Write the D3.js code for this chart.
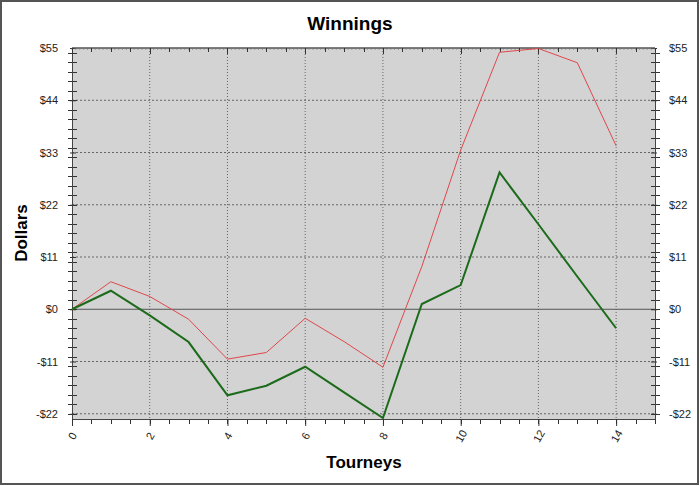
<!DOCTYPE html>
<html>
<head>
<meta charset="utf-8">
<script src="https://cdn.jsdelivr.net/npm/d3@7"></script>
<style>
  body { margin: 0; background: #fff; }
  svg { display: block; font-family: "Liberation Sans", Arial, sans-serif; }
</style>
</head>
<body>
<svg id="chart" width="700" height="486"></svg>
<script>
var width = 700,
    height = 486;

// data
var tourneys = [0, 1, 2, 3, 4, 5, 6, 7, 8, 9, 10, 11, 12, 13, 14];
var redSeries = [0, 5.8, 2.7, -2.1, -10.5, -9.1, -1.9, -6.8, -12.2, 9.0, 33.5, 54.1, 54.9, 51.9, 34.4];
var greenSeries = [0, 3.9, -1.3, -6.9, -18.1, -16.1, -12.1, -17.5, -22.9, 1.1, 5.1, 28.8, 17.9, 6.9, -4.0];
var yTickValues = [-22, -11, 0, 11, 22, 33, 44, 55];
var xTickValues = [0, 2, 4, 6, 8, 10, 12, 14];

var margin = { left: 72, right: 45, top: 48, bottom: 67 };

var x = d3.scaleLinear()
    .domain([0, 15])
    .range([margin.left, width - margin.right]);

var y = d3.scaleLinear()
    .domain([-23.1, 55])
    .range([height - margin.bottom, margin.top]);

var dollar = function(d) { return (d < 0 ? "-$" : "$") + Math.abs(d); };

var svg = d3.select("#chart");

// outer frame
svg.append("rect")
    .attr("x", 1).attr("y", 1)
    .attr("width", width - 3).attr("height", height - 3)
    .attr("fill", "#fff")
    .attr("stroke", "#555")
    .attr("stroke-width", 2);

// plot background
svg.append("rect")
    .attr("x", x(0)).attr("y", y(55))
    .attr("width", x(15) - x(0)).attr("height", y(-23.1) - y(55))
    .attr("fill", "#d3d3d3");

// grid
svg.append("g").selectAll("line")
    .data(xTickValues.slice(1))
    .enter().append("line")
    .attr("x1", function(d) { return x(d); })
    .attr("x2", function(d) { return x(d); })
    .attr("y1", y(55)).attr("y2", y(-23.1))
    .attr("stroke", "#666")
    .attr("stroke-dasharray", "1,2");

svg.append("g").selectAll("line")
    .data(yTickValues.filter(function(d) { return d !== 0 && d !== 55; }))
    .enter().append("line")
    .attr("x1", x(0)).attr("x2", x(15))
    .attr("y1", function(d) { return y(d); })
    .attr("y2", function(d) { return y(d); })
    .attr("stroke", "#666")
    .attr("stroke-dasharray", "2,2");

// zero line
svg.append("line")
    .attr("x1", x(0)).attr("x2", x(15))
    .attr("y1", y(0)).attr("y2", y(0))
    .attr("stroke", "#555");

// axes
function styleAxis(g) {
  g.select(".domain").attr("stroke", "#444");
  g.selectAll(".tick line").attr("stroke", "#333");
  g.selectAll(".tick text").attr("fill", "#222").style("font-size", "11px");
}

var minorY = d3.range(-22, 55, 2);
var minorX = d3.range(0, 15.01, 0.5);
var fineX = d3.range(0, 15.01, 0.1);

// left minor/major ticks crossing the axis
svg.append("g").selectAll("line")
    .data(minorY)
    .enter().append("line")
    .attr("x1", x(0) - 4).attr("x2", x(0) + 5)
    .attr("y1", function(d) { return Math.round(y(d)) + 0.5; })
    .attr("y2", function(d) { return Math.round(y(d)) + 0.5; })
    .attr("stroke", "#333");
svg.append("g").selectAll("line")
    .data(minorY)
    .enter().append("line")
    .attr("x1", x(15) - 4).attr("x2", x(15) + 5)
    .attr("y1", function(d) { return Math.round(y(d)) + 0.5; })
    .attr("y2", function(d) { return Math.round(y(d)) + 0.5; })
    .attr("stroke", "#333");

svg.append("g")
    .attr("transform", "translate(" + x(0) + ",0)")
    .call(d3.axisLeft(y).tickValues(yTickValues).tickFormat(dollar).tickSizeInner(6).tickSizeOuter(0).tickPadding(8))
    .call(styleAxis)
    .call(function(g) { g.selectAll(".tick line").attr("transform", "translate(4,0)"); });

svg.append("g")
    .attr("transform", "translate(" + x(15) + ",0)")
    .call(d3.axisRight(y).tickValues(yTickValues).tickFormat(dollar).tickSizeInner(6).tickSizeOuter(0).tickPadding(8))
    .call(styleAxis)
    .call(function(g) { g.selectAll(".tick line").attr("transform", "translate(-4,0)"); });

// bottom axis
svg.append("g").selectAll("line")
    .data(minorX)
    .enter().append("line")
    .attr("x1", function(d) { return Math.round(x(d)) + 0.5; })
    .attr("x2", function(d) { return Math.round(x(d)) + 0.5; })
    .attr("y1", y(-23.1)).attr("y2", y(-23.1) + 5)
    .attr("stroke", "#333");

var xAxis = svg.append("g")
    .attr("transform", "translate(0," + y(-23.1) + ")")
    .call(d3.axisBottom(x).tickValues(xTickValues).tickSizeInner(7).tickSizeOuter(0).tickPadding(10))
    .call(styleAxis);
xAxis.selectAll(".tick text")
    .attr("text-anchor", "middle")
    .attr("dy", "0.35em")
    .attr("y", 17)
    .attr("transform", "rotate(-60,0,17)");

// top edge with inward ticks
svg.append("line")
    .attr("x1", x(0)).attr("x2", x(15))
    .attr("y1", y(55)).attr("y2", y(55))
    .attr("stroke", "#555").attr("stroke-width", 1.5);
svg.append("g").selectAll("line")
    .data(fineX)
    .enter().append("line")
    .attr("x1", function(d) { return x(d); })
    .attr("x2", function(d) { return x(d); })
    .attr("y1", y(55))
    .attr("y2", y(55) + 2)
    .attr("stroke", "#777")
    .attr("stroke-width", 0.6);
svg.append("g").selectAll("line")
    .data(minorX)
    .enter().append("line")
    .attr("x1", function(d) { return Math.round(x(d)) + 0.5; })
    .attr("x2", function(d) { return Math.round(x(d)) + 0.5; })
    .attr("y1", y(55))
    .attr("y2", function(d) { return y(55) + (d % 2 === 0 ? 6 : 4); })
    .attr("stroke", "#333");

// series
var line = d3.line()
    .x(function(d) { return x(d[0]); })
    .y(function(d) { return y(d[1]); });

svg.append("path")
    .datum(d3.zip(tourneys, redSeries))
    .attr("d", line)
    .attr("fill", "none")
    .attr("stroke", "#e0474c")
    .attr("stroke-width", 1);

svg.append("path")
    .datum(d3.zip(tourneys, greenSeries))
    .attr("d", line)
    .attr("fill", "none")
    .attr("stroke", "#1b6b1b")
    .attr("stroke-width", 2);

// titles
svg.append("text")
    .attr("x", 350).attr("y", 30)
    .attr("text-anchor", "middle")
    .style("font-size", "19px").style("font-weight", "bold")
    .text("Winnings");

svg.append("text")
    .attr("x", 364).attr("y", 468)
    .attr("text-anchor", "middle")
    .style("font-size", "17px").style("font-weight", "bold")
    .text("Tourneys");

svg.append("text")
    .attr("transform", "translate(27,233) rotate(-90)")
    .attr("text-anchor", "middle")
    .style("font-size", "17px").style("font-weight", "bold")
    .text("Dollars");
</script>
</body>
</html>
